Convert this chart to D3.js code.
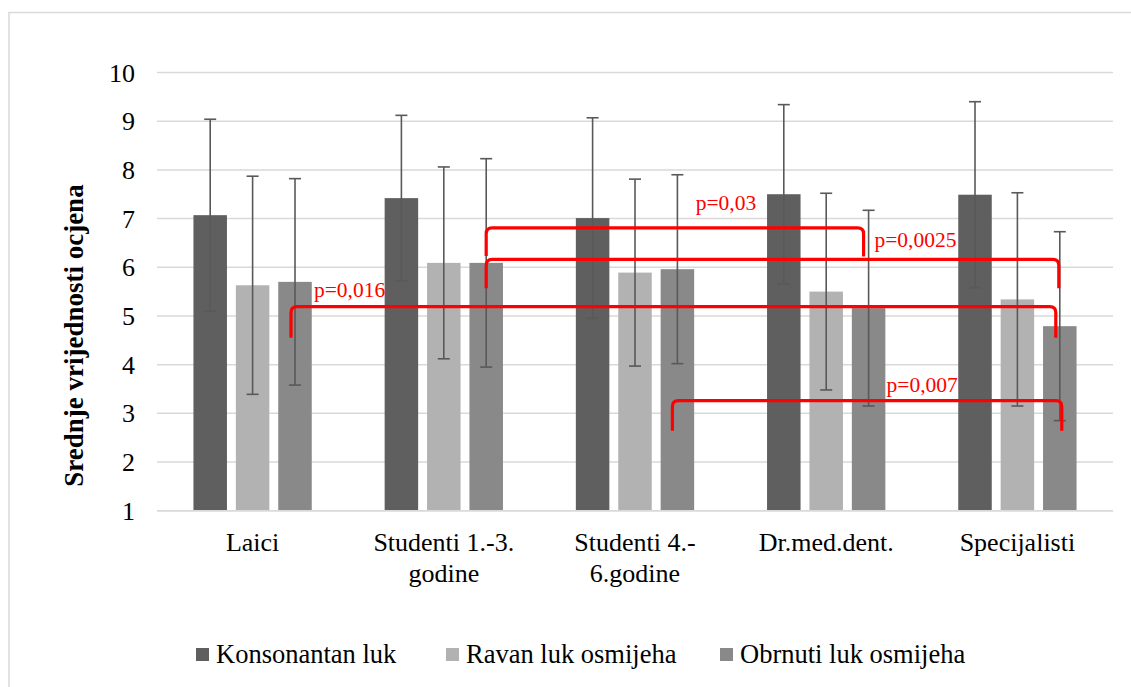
<!DOCTYPE html>
<html>
<head>
<meta charset="utf-8">
<script src="https://cdn.jsdelivr.net/npm/d3@7.9.0/dist/d3.min.js"></script>
<style>
  body { margin: 0; background: #fff; }
</style>
</head>
<body>
<svg id="chart" width="1131" height="687"></svg>
<script>
const categories = [["Laici"], ["Studenti 1.-3.", "godine"], ["Studenti 4.-", "6.godine"], ["Dr.med.dent."], ["Specijalisti"]];
const seriesNames = ["Konsonantan luk", "Ravan luk osmijeha", "Obrnuti luk osmijeha"];
const konsonantan = [7.07, 7.42, 7.01, 7.50, 7.49];
const ravan = [5.63, 6.09, 5.89, 5.50, 5.34];
const obrnuti = [5.70, 6.09, 5.96, 5.16, 4.79];
const sdKonsonantan = [1.97, 1.70, 2.06, 1.84, 1.91];
const sdRavan = [2.24, 1.97, 1.92, 2.02, 2.19];
const sdObrnuti = [2.12, 2.14, 1.94, 2.01, 1.94];
const yTicks = [1, 2, 3, 4, 5, 6, 7, 8, 9, 10];

// significance brackets: from/to = [category, series], level & drop in y units
const brackets = [
  { label: "p=0,016", from: [0, 2], to: [4, 2], level: 5.19, dropL: 4.55, dropR: 4.55, textY: 5.39 },
  { label: "p=0,03", from: [1, 2], to: [3, 2], level: 6.81, dropL: 6.23, dropR: 6.22, textY: 7.17 },
  { label: "p=0,0025", from: [1, 2], to: [4, 2], level: 6.16, dropL: 5.57, dropR: 5.57, textY: 6.42 },
  { label: "p=0,007", from: [2, 2], to: [4, 2], level: 3.26, dropL: 2.64, dropR: 2.64, textY: 3.44 }
];
// hand-drawn look: small x nudges of bracket ends and where the text sits
const bracketNudge = [[-4, -4], [0, -5], [0, -1], [-5, 2]];
const labelAt = [0.03, 0.555, 0.678, 0.55];

const values = [konsonantan, ravan, obrnuti];
const sds = [sdKonsonantan, sdRavan, sdObrnuti];
const colors = ["#5f5f5f", "#b2b2b2", "#898989"];

const svg = d3.select("#chart")
  .attr("font-family", "'Liberation Serif', 'Times New Roman', Times, serif");

// outer frame
svg.append("rect")
  .attr("x", 9).attr("y", 12.5)
  .attr("width", 1140).attr("height", 700)
  .attr("fill", "#fff")
  .attr("stroke", "#d9d9d9").attr("stroke-width", 1.5);

const plotLeft = 157, plotRight = 1113, plotTop = 72.5, plotBottom = 510.7;

const x = d3.scaleBand()
  .domain(d3.range(categories.length))
  .range([plotLeft, plotRight]);

const barW = 33.5, barStep = 42.4;
const barX = (c, s) => x(c) + x.bandwidth() / 2 + (s - 1) * barStep;

const y = d3.scaleLinear().domain([1, 10]).range([plotBottom, plotTop]);

// grid
svg.append("g").selectAll("line")
  .data(yTicks)
  .join("line")
  .attr("x1", plotLeft).attr("x2", plotRight)
  .attr("y1", d => y(d)).attr("y2", d => y(d))
  .attr("stroke", "#d9d9d9").attr("stroke-width", 1.5);

// y tick labels
svg.append("g").selectAll("text")
  .data(yTicks)
  .join("text")
  .attr("x", 135)
  .attr("y", d => y(d))
  .attr("dy", "0.35em")
  .attr("text-anchor", "end")
  .attr("font-size", 26)
  .attr("fill", "#000")
  .text(d => d);

// y title
svg.append("text")
  .attr("transform", `translate(83,${(plotTop + plotBottom) / 2 + 44}) rotate(-90)`)
  .attr("text-anchor", "middle")
  .attr("font-size", 27)
  .attr("font-weight", "bold")
  .text("Srednje vrijednosti ocjena");

// bars + error bars
values.forEach((vals, s) => {
  const g = svg.append("g");
  g.selectAll("rect")
    .data(vals)
    .join("rect")
    .attr("x", (d, i) => barX(i, s) - barW / 2)
    .attr("y", d => y(d))
    .attr("width", barW)
    .attr("height", d => y(1) - y(d))
    .attr("fill", colors[s]);

  vals.forEach((v, i) => {
    const cx = barX(i, s);
    const hi = y(v + sds[s][i]), lo = y(v - sds[s][i]);
    g.append("line").attr("x1", cx).attr("x2", cx).attr("y1", hi).attr("y2", lo);
    g.append("line").attr("x1", cx - 6).attr("x2", cx + 6).attr("y1", hi).attr("y2", hi);
    g.append("line").attr("x1", cx - 6).attr("x2", cx + 6).attr("y1", lo).attr("y2", lo);
  });
  g.selectAll("line").attr("stroke", "#595959").attr("stroke-width", 1.6);
});

// baseline
svg.append("line")
  .attr("x1", plotLeft).attr("x2", plotRight)
  .attr("y1", y(1)).attr("y2", y(1))
  .attr("stroke", "#d9d9d9").attr("stroke-width", 1.5);

// category labels
categories.forEach((lines, i) => {
  const t = svg.append("text")
    .attr("text-anchor", "middle")
    .attr("font-size", 26)
    .attr("y", 551);
  lines.forEach((ln, k) => {
    t.append("tspan")
      .attr("x", x(i) + x.bandwidth() / 2)
      .attr("dy", k === 0 ? 0 : 31)
      .text(ln);
  });
});

// brackets
brackets.forEach((b, i) => {
  const x1 = barX(b.from[0], b.from[1]) + bracketNudge[i][0];
  const x2 = barX(b.to[0], b.to[1]) + bracketNudge[i][1];
  const yl = y(b.level), r = 6;
  const p = d3.path();
  p.moveTo(x1, y(b.dropL));
  p.lineTo(x1, yl + r);
  p.quadraticCurveTo(x1, yl, x1 + r, yl);
  p.lineTo(x2 - r, yl);
  p.quadraticCurveTo(x2, yl, x2, yl + r);
  p.lineTo(x2, y(b.dropR));
  svg.append("path")
    .attr("d", p.toString())
    .attr("fill", "none")
    .attr("stroke", "#ff0000")
    .attr("stroke-width", 3.2);
  svg.append("text")
    .attr("x", x1 + (x2 - x1) * labelAt[i])
    .attr("y", y(b.textY))
    .attr("font-size", 21.5)
    .attr("fill", "#ff0000")
    .text(b.label);
});

// legend
const legendX = [196, 446, 720];
seriesNames.forEach((name, s) => {
  svg.append("rect")
    .attr("x", legendX[s]).attr("y", 648)
    .attr("width", 13).attr("height", 13)
    .attr("fill", colors[s]);
  svg.append("text")
    .attr("x", legendX[s] + 20).attr("y", 663)
    .attr("font-size", 26.5)
    .text(name);
});
</script>
</body>
</html>
